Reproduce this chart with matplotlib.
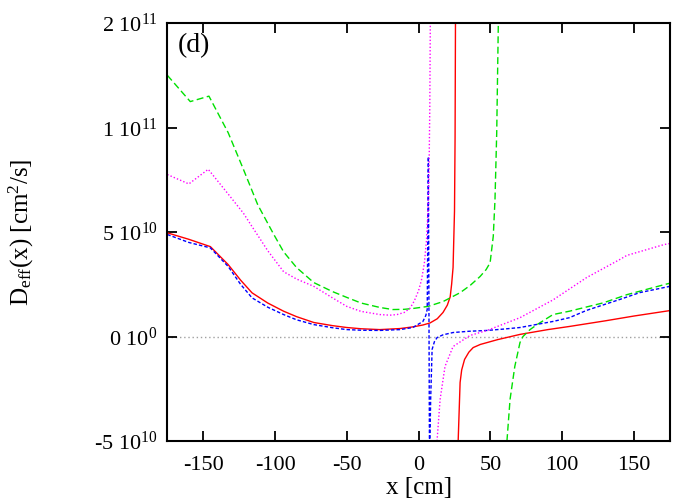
import matplotlib
matplotlib.use('Agg')
import matplotlib.pyplot as plt
import numpy as np

plt.rcParams['font.family'] = 'Liberation Serif'
plt.rcParams['mathtext.fontset'] = 'custom'
plt.rcParams['mathtext.rm'] = 'Liberation Serif'
plt.rcParams['mathtext.it'] = 'Liberation Serif:italic'
plt.rcParams['axes.unicode_minus'] = False

scale = 1e10  # y values below are in units of 1e10 cm^2/s

# red, solid (two branches around the pole)
red_x1 = [-175, -160, -145, -132.6, -124, -116, -105, -94, -85, -73, -60, -50, -40, -27, -13, -4, 3, 8, 13, 17, 20, 22, 23, 24, 25, 25.4, 25.7]
red_y1 = [4.96, 4.65, 4.3, 3.44, 2.7, 2.09, 1.6, 1.21, 0.95, 0.67, 0.52, 0.43, 0.37, 0.33, 0.38, 0.46, 0.55, 0.65, 0.85, 1.15, 1.5, 1.9, 2.5, 3.3, 6.0, 9.5, 15.5]
red_x2 = [27.2, 27.6, 28.9, 30, 32, 35, 38, 43, 47.7, 55, 70.6, 90, 105, 130, 150, 175]
red_y2 = [-6, -4.9, -2.2, -1.6, -1.1, -0.75, -0.53, -0.38, -0.29, -0.15, 0.1, 0.33, 0.48, 0.75, 0.98, 1.24]

# blue, short dashes (one connected line with a spike)
blue_x = [-175, -160, -145, -132.6, -124, -116, -105, -94, -85, -73, -60, -50, -40, -27, -13, -4, 3, 5, 6, 6.8, 7.6, 8.4, 9.4, 11, 12.9, 17, 24, 35, 47.7, 60, 70.6, 93.6, 105, 117, 140, 154, 175]
blue_y = [4.88, 4.5, 4.24, 3.35, 2.5, 1.85, 1.4, 1.05, 0.8, 0.57, 0.42, 0.33, 0.3, 0.29, 0.33, 0.43, 0.72, 1.0, 1.3, 8.6, -6, -3, -0.62, -0.25, -0.05, 0.08, 0.19, 0.25, 0.29, 0.36, 0.43, 0.72, 0.9, 1.25, 1.77, 2.1, 2.4]

# magenta, dotted
mag_x1 = [-175, -160, -146.5, -133, -122, -116, -105, -94, -85, -73, -60, -50, -40, -27, -20, -15, -10, -6, -3, 0, 2, 4, 5.5, 6.5, 7.3, 7.8, 8.2]
mag_y1 = [7.75, 7.3, 8.0, 6.85, 5.9, 5.26, 4.1, 3.1, 2.75, 2.4, 1.85, 1.44, 1.2, 1.05, 1.02, 1.05, 1.15, 1.35, 1.7, 2.2, 2.7, 3.5, 4.6, 6.0, 8.1, 11, 15.5]
mag_x2 = [12.5, 12.9, 15, 18.4, 24, 35.8, 47.7, 70.6, 93.6, 117, 140, 145, 171, 175]
mag_y2 = [-6, -4.93, -3, -1.43, -0.48, 0.05, 0.29, 0.9, 1.75, 2.82, 3.68, 3.88, 4.4, 4.45]

# green, long dashes
grn_x1 = [-175, -159, -146, -132.6, -122, -112, -101, -94, -85, -73, -60, -50, -40, -27, -18, -10, -4, 6.6, 17, 29, 36, 42.8, 47, 49.8, 52, 53.2, 54.4, 55.5, 56]
grn_y1 = [12.5, 11.24, 11.5, 9.75, 8.0, 6.3, 4.9, 4.05, 3.3, 2.58, 2.15, 1.87, 1.6, 1.39, 1.29, 1.3, 1.34, 1.44, 1.67, 2.1, 2.45, 2.87, 3.2, 3.53, 4.8, 6.55, 9.75, 14.9, 16]
grn_x2 = [61.2, 61.6, 63.7, 67, 70.6, 72.7, 77.6, 82.5, 93.6, 105, 128.6, 145, 171.5, 175]
grn_y2 = [-6, -4.93, -3, -1.43, -0.29, 0.0, 0.33, 0.57, 1.05, 1.21, 1.61, 2.0, 2.49, 2.55]

ytick_vals = [-5, 0, 5, 10, 15]
ytick_labels = [r'-5 10$^{10}$', r'0 10$^{0}$', r'5 10$^{10}$', r'1 10$^{11}$', r'2 10$^{11}$']
xtick_vals = [-150, -100, -50, 0, 50, 100, 150]

fig = plt.figure(figsize=(7, 5), dpi=100)
ax = fig.add_axes([0.239, 0.118, 0.718, 0.836])

ax.axhline(0, color='#a0a0a0', lw=1.0, ls=(0, (1, 2)), zorder=1)

ax.plot(red_x1, np.array(red_y1) * scale, color='#ff0000', lw=1.0)
ax.plot(red_x2, np.array(red_y2) * scale, color='#ff0000', lw=1.0)
ax.plot(grn_x1, np.array(grn_y1) * scale, color='#00e000', lw=1.0, ls=(0, (5, 2.5)))
ax.plot(grn_x2, np.array(grn_y2) * scale, color='#00e000', lw=1.0, ls=(0, (5, 2.5)))
ax.plot(blue_x, np.array(blue_y) * scale, color='#0000ff', lw=1.0, ls=(0, (2.5, 1.5)))
ax.plot(mag_x1, np.array(mag_y1) * scale, color='#ff00ff', lw=1.0, ls=(0, (1, 1.5)))
ax.plot(mag_x2, np.array(mag_y2) * scale, color='#ff00ff', lw=1.0, ls=(0, (1, 1.5)))

ax.set_xlim(-175, 175)
ax.set_ylim(-5 * scale, 15 * scale)
ax.set_xticks(xtick_vals)
ax.set_yticks([v * scale for v in ytick_vals])
ax.set_yticklabels(ytick_labels)
ax.tick_params(direction='in', length=7, width=1.3, labelsize=16, top=True, right=True)
ax.tick_params(axis='x', pad=11)
ax.tick_params(axis='y', pad=7)
for s in ax.spines.values():
    s.set_linewidth(1.5)

ax.set_xlabel('x [cm]', fontsize=18, labelpad=1)
ax.set_ylabel(r'D$_{\mathrm{eff}}$(x) [cm$^2$/s]', fontsize=18, labelpad=42)
ax.text(0.02, 0.975, '(d)', transform=ax.transAxes, fontsize=20, va='top', ha='left')

fig.savefig('out.png', dpi=100)
